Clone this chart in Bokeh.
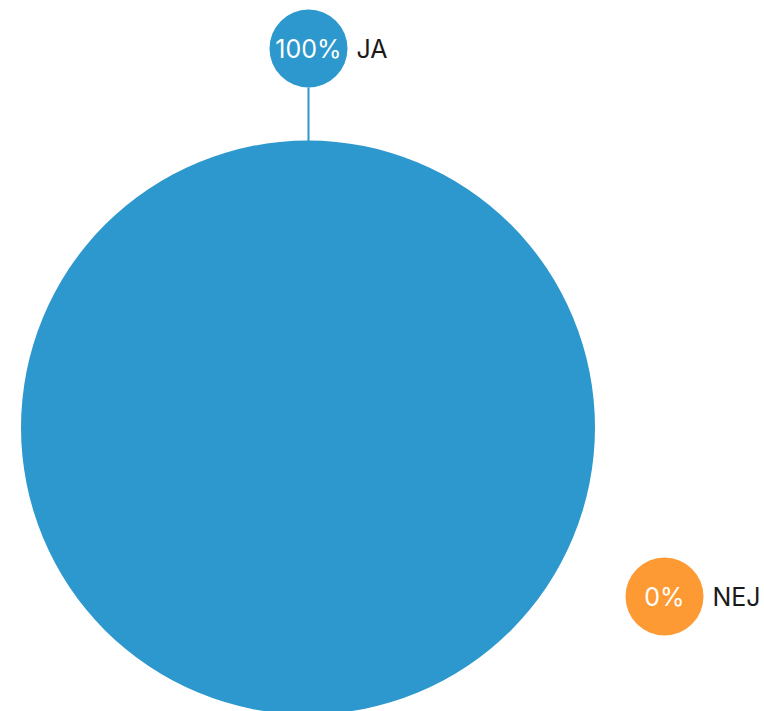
import math
from bokeh.plotting import figure
from bokeh.models import Range1d, ColumnDataSource
from bokeh.core.properties import value
from bokeh.embed import file_html
from bokeh.resources import INLINE

categories = ["JA", "NEJ"]
values = [100, 0]
colors = ["#2c98cd", "#fd9a33"]
pct_labels = ["100%", "0%"]

W, H = 764, 711
p = figure(width=W, height=H, output_backend="svg", toolbar_location=None,
           x_range=Range1d(0, W), y_range=Range1d(H, 0), min_border=0)
p.axis.visible = False
p.grid.visible = False
p.outline_line_color = None
p.background_fill_color = "white"

cx, cy, R = 307.5, 427, 287
total = sum(values)
starts, ends = [], []
acc = 0
for v in values:
    a0 = -math.pi / 2 + 2 * math.pi * acc / total
    acc += v
    a1 = -math.pi / 2 + 2 * math.pi * acc / total
    starts.append(a0)
    ends.append(a1)

for c, v, a0, a1 in zip(colors, values, starts, ends):
    if v <= 0:
        continue
    if v == total:
        p.circle(x=[cx], y=[cy], radius=R, fill_color=c, line_color=None)
    else:
        p.wedge(x=[cx], y=[cy], radius=R, start_angle=a0, end_angle=a1,
                fill_color=c, line_color=None)

# label bubbles (layout positions)
bx = [308, 664]
by = [48, 596]
br = 39

# leader line for JA
p.segment(x0=[bx[0]], y0=[by[0] + br], x1=[bx[0]], y1=[cy - R + 1],
          line_color=colors[0], line_width=2)

src = ColumnDataSource(dict(x=bx, y=by, c=colors, pct=pct_labels, cat=categories,
                            lx=[b + br + 9 for b in bx]))
p.circle(x="x", y="y", radius=br, fill_color="c", line_color=None, source=src)
p.text(x="x", y="y", text="pct", text_color="white", text_align="center",
       text_baseline="middle", text_font=value("Inter"), text_font_size="25px",
       source=src)
p.text(x="lx", y="y", text="cat", text_color="#1a1a1a", text_align="left",
       text_baseline="middle", text_font=value("Inter"), text_font_size="25px",
       source=src)

open("out.html", "w").write(file_html(p, INLINE))
